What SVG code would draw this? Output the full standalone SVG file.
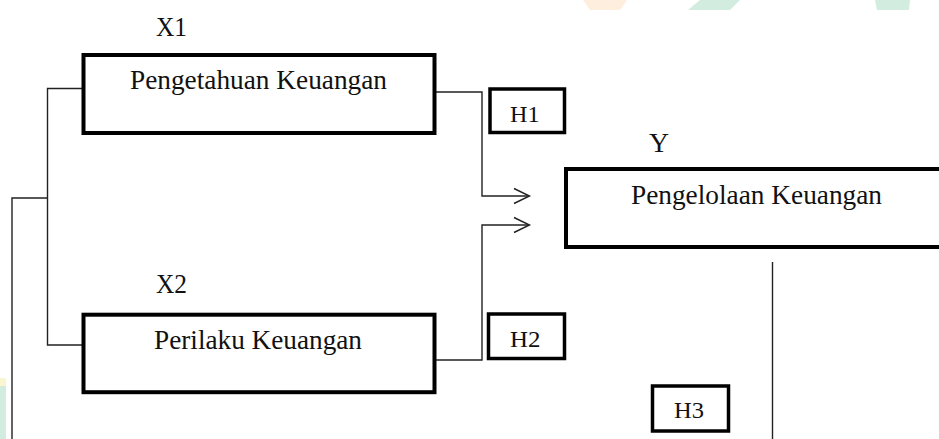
<svg xmlns="http://www.w3.org/2000/svg" width="939" height="439" viewBox="0 0 939 439">
  <style>
    .box { fill: #ffffff; stroke: #000000; stroke-width: 4; }
    .hbox { fill: #ffffff; stroke: #000000; stroke-width: 3.5; }
    .lbl { font-family: "Liberation Serif", "Times New Roman", serif; font-size: 27px; fill: #111111; }
    .hl { font-family: "Liberation Serif", "Times New Roman", serif; font-size: 23px; fill: #111111; }
    .wire { fill: none; stroke: #222222; stroke-width: 1.4; }
    .head { fill: none; stroke: #222222; stroke-width: 1.4; stroke-linejoin: miter; }
  </style>
  <rect width="939" height="439" fill="#ffffff"/>
  <g id="watermark">
    <path d="M583 0 L627 0 L620 10 L590 10 Z" fill="#fdeedd"/>
    <path d="M700 0 L740 0 L730 10 L688 10 Z" fill="#d2ede0"/>
    <path d="M875 0 L910 0 L909 10 L877 10 Z" fill="#d2ede0"/>
    <rect x="0" y="380" width="6" height="59" fill="#d2ede0"/>
    <rect x="0" y="378" width="6" height="8" fill="#fbf6d2"/>
  </g>
  <g id="connectors">
    <path class="wire" d="M82 88.5 H47.5 V345 H82"/>
    <path class="wire" d="M47.5 198 H12 V439"/>
    <path class="wire" d="M436 92 H482 V196 H529"/>
    <path class="head" d="M514 188.5 L529.5 196 L514 203.5"/>
    <path class="wire" d="M436 360 H482 V225 H529"/>
    <path class="head" d="M514 217.5 L529.5 225 L514 232.5"/>
    <path class="wire" d="M772.5 262 V439"/>
  </g>
  <g id="x1">
    <text class="lbl" x="156" y="36" textLength="31" lengthAdjust="spacingAndGlyphs">X1</text>
    <rect class="box" x="83.5" y="55" width="351" height="78"/>
    <text class="lbl" x="130" y="89" textLength="257" lengthAdjust="spacingAndGlyphs">Pengetahuan Keuangan</text>
  </g>
  <g id="x2">
    <text class="lbl" x="156" y="293" textLength="31" lengthAdjust="spacingAndGlyphs">X2</text>
    <rect class="box" x="83.5" y="314.7" width="351" height="77.5"/>
    <text class="lbl" x="154" y="349" textLength="208" lengthAdjust="spacingAndGlyphs">Perilaku Keuangan</text>
  </g>
  <g id="y">
    <text class="lbl" x="649" y="152" textLength="20" lengthAdjust="spacingAndGlyphs">Y</text>
    <rect class="box" x="566" y="169" width="400" height="78"/>
    <text class="lbl" x="631" y="204" textLength="251" lengthAdjust="spacingAndGlyphs">Pengelolaan Keuangan</text>
  </g>
  <g id="h1">
    <rect class="hbox" x="490" y="89" width="74.5" height="43.5"/>
    <text class="hl" x="510" y="121.5" textLength="29.5" lengthAdjust="spacingAndGlyphs">H1</text>
  </g>
  <g id="h2">
    <rect class="hbox" x="488.5" y="314" width="76" height="44.5"/>
    <text class="hl" x="510" y="347" textLength="30.5" lengthAdjust="spacingAndGlyphs">H2</text>
  </g>
  <g id="h3">
    <rect class="hbox" x="652.5" y="386" width="76" height="45"/>
    <text class="hl" x="674" y="418" textLength="30" lengthAdjust="spacingAndGlyphs">H3</text>
  </g>
</svg>
